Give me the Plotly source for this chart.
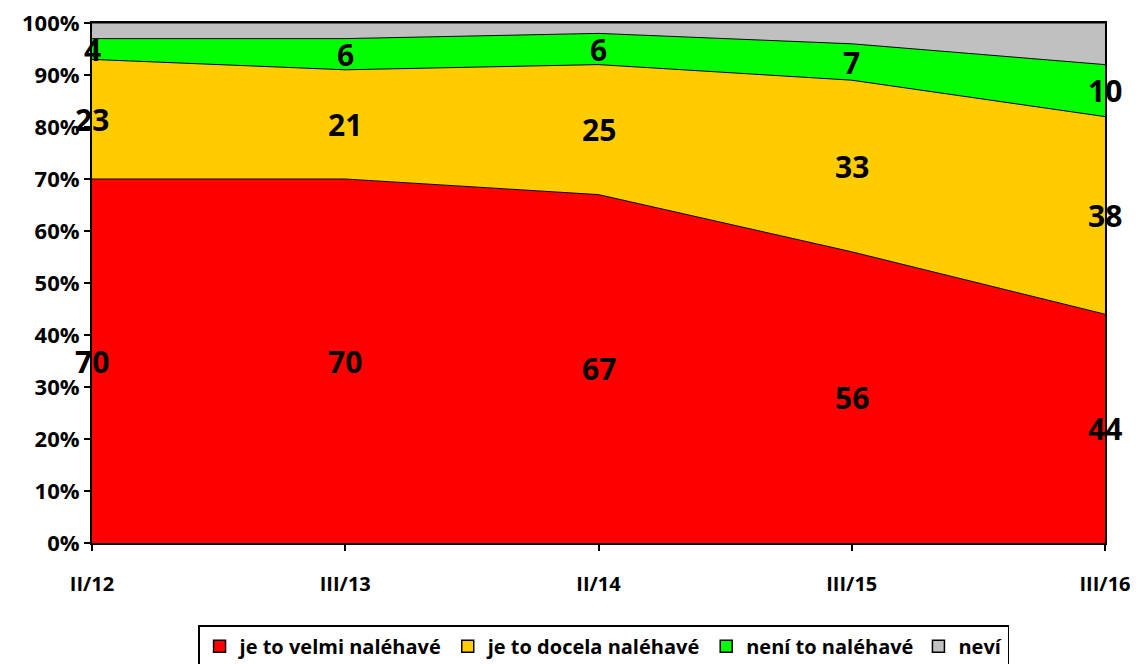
import plotly.graph_objects as go

obdobi = ["II/12", "III/13", "II/14", "III/15", "III/16"]
velmi = [70, 70, 67, 56, 44]
docela = [23, 21, 25, 33, 38]
neni = [4, 6, 6, 7, 10]
nevi = [3, 3, 2, 4, 8]

x = list(range(len(obdobi)))
serie = [
    ("je to velmi naléhavé", velmi, "#ff0000"),
    ("je to docela naléhavé", docela, "#ffcc00"),
    ("není to naléhavé", neni, "#00ff00"),
    ("neví", nevi, "#c0c0c0"),
]

fig = go.Figure()
for nazev, hodnoty, barva in serie:
    fig.add_trace(go.Scatter(
        x=x, y=hodnoty, name=nazev, mode="lines",
        stackgroup="one", fillcolor=barva, showlegend=False,
        line=dict(color="black", width=1),
    ))

# legenda se ctverecky
for nazev, hodnoty, barva in serie:
    fig.add_trace(go.Scatter(
        x=[None], y=[None], name=nazev, mode="markers",
        marker=dict(symbol="square", size=12, color=barva,
                    line=dict(color="black", width=1.5)),
    ))

# popisky hodnot uprostred vrstev (bez "nevi")
zaklad = [0] * len(x)
for nazev, hodnoty, barva in serie[:3]:
    for i, v in enumerate(hodnoty):
        fig.add_annotation(
            x=x[i], y=zaklad[i] + v / 2, text=str(v), showarrow=False,
            font=dict(size=30, color="black", family="Open Sans", weight="bold"),
        )
    zaklad = [a + b for a, b in zip(zaklad, hodnoty)]

fig.update_layout(
    width=1138, height=664,
    margin=dict(l=92, r=33, t=23, b=121, autoexpand=False),
    plot_bgcolor="white", paper_bgcolor="white",
    font=dict(family="Open Sans", size=18, color="black", weight="bold"),
    showlegend=True,
    legend=dict(
        orientation="h", x=0.505, xanchor="center", y=-0.158, yanchor="top",
        bordercolor="black", borderwidth=1.5,
        font=dict(family="Open Sans", size=20, weight="bold"),
        traceorder="normal", itemwidth=30, tracegroupgap=0,
    ),
)
fig.update_xaxes(
    tickvals=x, ticktext=obdobi, range=[0, 4], showgrid=False,
    ticks="outside", ticklen=6, tickcolor="black", tickwidth=2,
    showline=True, linecolor="black", linewidth=2, mirror=True,
    ticklabelstandoff=16, zeroline=False, automargin=False,
    tickfont=dict(family="Open Sans", size=20, weight="bold"),
)
fig.update_yaxes(
    range=[0, 100], tickvals=list(range(0, 101, 10)),
    ticktext=[f"{v}%" for v in range(0, 101, 10)], showgrid=False,
    ticks="outside", ticklen=6, tickcolor="black", tickwidth=2,
    showline=True, linecolor="black", linewidth=2, mirror=True, zeroline=False,
    automargin=False, tickfont=dict(family="Open Sans", size=22, weight="bold"),
)

fig.write_html("out.html", config={"displayModeBar": False},
               post_script="document.body.style.margin='0';")
